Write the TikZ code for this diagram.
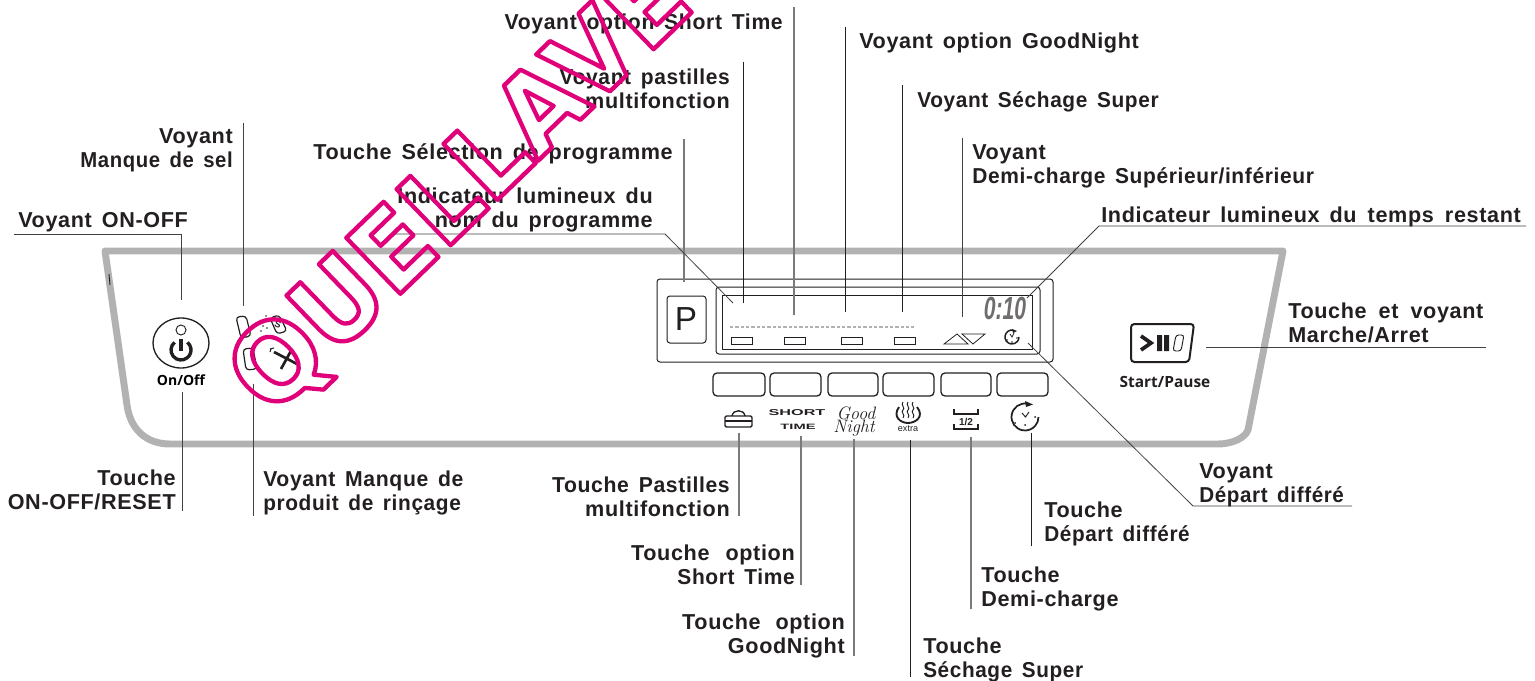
\documentclass[tikz,border=0pt]{standalone}
\usepackage{fontspec}
\usetikzlibrary{shapes.geometric}
\setmainfont{Liberation Sans}
\definecolor{wm}{HTML}{E0007A}
\definecolor{panel}{HTML}{B2B2B2}
\definecolor{ink}{HTML}{231F20}
\newfontfamily\lab[LetterSpace=3,WordSpace=1.5]{Liberation Sans Bold}
\newfontfamily\lmark{Liberation Sans Bold}
\newfontfamily\wmark{DejaVu Sans Bold}
\newfontfamily\opn{Open Sans}[BoldFont=* Bold]
\newfontfamily\scrpt{Latin Modern Roman}
\newcommand\sqz[2]{\scalebox{#1}[1]{#2}}
\tikzset{
 lbl/.style={inner sep=0pt,font=\fontsize{16.2}{18}\selectfont\lab,text=ink},
 lleft/.style={lbl,anchor=west,align=left},
 lright/.style={lbl,anchor=east,align=right},
 lead/.style={draw=ink!85,line width=0.6pt},
 leadg/.style={draw=ink!60,line width=0.9pt},
 wire/.style={draw=ink,line width=0.55pt},
 rbox/.style={draw=ink,line width=0.75pt,rounded corners=2.2pt},
 ledbox/.style={draw=ink,line width=0.7pt,fill=white},
 keybox/.style={draw=ink,line width=0.95pt,rounded corners=3pt},
}
\begin{document}
\begin{tikzpicture}[x=0.75pt,y=-0.75pt]
\useasboundingbox (0,0) rectangle (1535,681);
% panel
\draw[panel,line width=5.2pt,line join=round] (105,251) -- (1283,251) -- (1248,430) .. controls (1245,438) and (1232,444) .. (1218,444) -- (170,444) .. controls (145,444) and (130,428) .. (127,405) -- cycle;
\draw[ink,line width=0.7pt] (109,274) -- (110,285);
% on/off
\node[draw=ink,line width=1pt,ellipse,inner sep=0pt,minimum width=42pt,minimum height=37.5pt] (onoff) at (181,343) {};
\draw[ink,line width=0.7pt] (181,330) circle[radius=5];
\draw[ink,line width=2.5pt] ([shift={(181,350)}]-130:10) arc[start angle=-130,end angle=-410,radius=10];
\draw[ink,line width=2.4pt] (181,339) -- (181,351);
\node[inner sep=0pt,font=\fontsize{10.5}{10.5}\selectfont\opn\bfseries,text=black] (onofftxt) at (181,380) {On/Off};
% salt/rinse lights
\draw[ink,line width=0.9pt,rounded corners=2.5pt] (236,317) -- (246,316) -- (251,336) -- (241,338) -- cycle;
\draw[ink,line width=0.9pt,rounded corners=2.5pt] (243,349) -- (253,348) -- (257,369) -- (246,370) -- cycle;
\draw[ink,line width=0.9pt,rounded corners=2.5pt] (270,318) -- (279,315) -- (287,331) -- (277,334) -- cycle;
\node[inner sep=0pt,rotate=-20,font=\fontsize{7}{7}\selectfont\lmark,text=ink] (salt) at (278,325) {S};
\foreach \p in {(266,316),(264,321),(263,326),(261,331),(267,328),(267,336)} \fill[ink] \p circle[radius=0.8];
\draw[ink,line width=2pt] (274,352) -- (299,365);
\draw[ink,line width=2pt] (292,349) -- (281,369);
\draw[ink,line width=0.8pt] (270,349) -- (274,348) (271,349) -- (270,352);
% display housing
\draw[rbox] (657,279) rectangle (1053,362);
\draw[rbox] (667,296) rectangle (706,343);
\node[inner sep=0pt,font=\fontsize{25}{25}\selectfont,text=ink] (pkey) at (686,319) {P};
\draw[rbox] (716,287) rectangle (1040,354);
\draw[draw=ink,line width=0.75pt] (722,295) rectangle (1032,349);
\draw[panel,line width=1.6pt,dash pattern=on 2.6pt off 1.4pt] (730,327) -- (914,327);
\foreach \x in {731,784,841,894} \draw[ledbox] (\x,337) rectangle (\x+21,344);
\draw[ink,line width=0.6pt] (944,344) -- (968,344) -- (957,334) -- cycle;
\draw[ink,line width=0.6pt] (962,334) -- (985,334) -- (973,344) -- cycle;
\node[inner sep=0pt,xscale=0.66,font=\fontsize{24}{24}\selectfont\lmark\itshape,text=ink!65] (dig) at (1005,308) {0:10};
% small clock
\draw[ink,line width=1.1pt] ([shift={(1012,337)}]-80:7) arc[start angle=-80,end angle=-360,radius=7];
\fill[ink] (1012,329) -- (1017,331) -- (1013,333) -- cycle;
\draw[ink,line width=0.6pt] (1010,334) -- (1012,337) -- (1014,333);
\fill[ink] (1017,338) circle[radius=0.8] (1012,342) circle[radius=0.8] (1007,340) circle[radius=0.8];
% keys
\foreach \a/\b in {713/765,770/821,828/878,883/934,941/991,997/1048} \draw[keybox] (\a,373) rectangle (\b,396);
% icons
\draw[ink,line width=1pt,rounded corners=1pt] (725,416) rectangle (752,427);
\draw[ink,line width=1pt] (725,421) -- (752,421);
\draw[ink,line width=1pt] (732,416) .. controls (733,409) and (744,409) .. (745,416);
\node[inner sep=0pt,xscale=1.9,font=\fontsize{6.4}{6.4}\selectfont\lmark,text=ink] (sh) at (797,413) {SHORT};
\node[inner sep=0pt,xscale=1.9,font=\fontsize{5.8}{5.8}\selectfont\lmark,text=ink] (ti) at (798,427) {TIME};
\node[inner sep=0pt,font=\fontsize{13.5}{13.5}\selectfont\scrpt\itshape,text=ink] (gd) at (856,413) {Good};
\node[inner sep=0pt,font=\fontsize{13.5}{13.5}\selectfont\scrpt\itshape,text=ink] (ng) at (854,428) {Night};
\foreach \x in {903,908,913} \draw[ink,line width=0.7pt] (\x,402) .. controls (\x-3,405) and (\x+3,408) .. (\x,410) .. controls (\x-3,412) and (\x+3,415) .. (\x,418);
\draw[ink,line width=1.4pt] (899,407) .. controls (892,417) and (901,423) .. (908,423) .. controls (915,423) and (925,417) .. (917,407);
\node[inner sep=0pt,font=\fontsize{6.8}{6.8}\selectfont,text=ink] (ex) at (908,429) {extra};
\draw[ink,line width=1pt] (954,409) -- (954,414) -- (978,414) -- (978,409);
\draw[ink,line width=1.2pt] (954,424) -- (954,429) -- (978,429) -- (978,424);
\node[inner sep=0pt,font=\fontsize{7.5}{7.5}\selectfont\lmark,text=ink] (half) at (966,422) {1/2};
\draw[ink,line width=1.3pt] ([shift={(1025,417)}]-80:13.5) arc[start angle=-80,end angle=-360,radius=13.5];
\fill[ink] (1025,401) -- (1033,404.5) -- (1026,407) -- cycle;
\draw[ink,line width=0.7pt] (1022,413) -- (1025.5,417) -- (1029,412);
\fill[ink] (1035,417) circle[radius=1] (1015,423) circle[radius=1] (1025,425) circle[radius=1];
% start/pause
\draw[ink,line width=1.5pt,rounded corners=2.5pt] (1131,324) -- (1194,324) -- (1189,362) -- (1131,362) -- cycle;
\draw[ink,line width=2.8pt,miter limit=4] (1141,336) -- (1151,343) -- (1141,350);
\fill[ink] (1157,335) rectangle (1162,351) (1164,335) rectangle (1169,351);
\draw[ink,line width=0.7pt,rounded corners=2pt] (1176,335) -- (1184,335) -- (1181,351) -- (1173,351) -- cycle;
\node[inner sep=0pt,font=\fontsize{11.6}{11.6}\selectfont\opn\bfseries,text=ink] (sp) at (1165,382) {Start/Pause};
% labels
\node[lleft] (t1) at (18,222) {Voyant ON-OFF};
\node[lright] (t2) at (233,150) {Voyant\\\sqz{0.94}{Manque de sel}};
\node[lleft] (t3) at (313,154) {Touche Sélection de programme};
\node[lright] (t4) at (653,210) {Indicateur lumineux du\\nom du programme};
\node[lright] (t5) at (730,89) {\sqz{0.97}{Voyant pastilles}\\multifonction};
\node[lright] (t6) at (783,24) {\sqz{0.98}{Voyant option Short Time}};
\node[lleft] (t7) at (859,43) {Voyant option GoodNight};
\node[lleft] (t8) at (917,102) {\sqz{0.965}{Voyant Séchage Super}};
\node[lleft] (t9) at (972,166) {Voyant\\\sqz{0.97}{Demi-charge Supérieur/inférieur}};
\node[lleft] (t10) at (1101,217) {Indicateur lumineux du\hspace{0.8pt} temps\hspace{0.8pt} restant};
\node[lleft] (t11) at (1288,323) {Touche\hspace{1.5pt} et\hspace{1.5pt} voyant\\Marche/Arret};
\node[lleft] (t12) at (1199,485) {Voyant\\\sqz{0.955}{Départ différé}};
\node[lleft] (t13) at (1044,524) {Touche\\\sqz{0.96}{Départ différé}};
\node[lleft] (t14) at (981,589) {Touche\\Demi-charge};
\node[lleft] (t15) at (923,660) {Touche\\\sqz{0.96}{Séchage Super}};
\node[lright] (t16) at (845,636) {Touche\hspace{3.7pt} option\\GoodNight};
\node[lright] (t17) at (795,565) {Touche\hspace{4.5pt} option\\\sqz{0.97}{Short Time}};
\node[lright] (t18) at (730,497) {\sqz{0.98}{Touche Pastilles}\\multifonction};
\node[lright] (t19) at (176,490) {Touche\\ON-OFF/RESET};
\node[lleft] (t20) at (263,493) {\sqz{0.98}{Voyant Manque de}\\\sqz{0.965}{produit de rinçage}};
% connector ends
\coordinate (a1) at (14,234); \coordinate (a2) at (181,234); \coordinate (a3) at (181,300);
\coordinate (b1) at (243,123); \coordinate (b2) at (243,306);
\coordinate (c1) at (684,139); \coordinate (c2) at (684,282);
\coordinate (d1) at (395,234); \coordinate (d2) at (665,234); \coordinate (d3) at (733,303);
\coordinate (e1) at (743,62); \coordinate (e2) at (743,303);
\coordinate (f1) at (794,7); \coordinate (f2) at (794,315);
\coordinate (g1) at (845,27); \coordinate (g2) at (845,312);
\coordinate (h1) at (902,85); \coordinate (h2) at (902,312);
\coordinate (i1) at (962,138); \coordinate (i2) at (962,317);
\coordinate (j1) at (1526,226); \coordinate (j2) at (1099,226); \coordinate (j3) at (1027,298);
\coordinate (k1) at (1206,347); \coordinate (k2) at (1486,347);
\coordinate (l1) at (1028,343); \coordinate (l2) at (1193,506); \coordinate (l3) at (1352,506);
\coordinate (m1) at (1031,433); \coordinate (m2) at (1031,546);
\coordinate (n1) at (971,437); \coordinate (n2) at (971,609);
\coordinate (o1) at (910,440); \coordinate (o2) at (910,677);
\coordinate (p1) at (854,439); \coordinate (p2) at (854,656);
\coordinate (q1) at (801,436); \coordinate (q2) at (801,585);
\coordinate (r1) at (739,433); \coordinate (r2) at (739,516);
\coordinate (s1) at (182,392); \coordinate (s2) at (182,511);
\coordinate (u1) at (253,384); \coordinate (u2) at (253,516);
\draw[lead] (a1) -- (a2) -- (a3);
\draw[lead] (b1) -- (b2);
\draw[leadg] (c1) -- (c2);
\draw[lead] (d1) -- (d2) -- (d3);
\draw[wire] (e1) -- (e2);
\draw[leadg] (f1) -- (f2);
\draw[wire] (g1) -- (g2);
\draw[wire] (h1) -- (h2);
\draw[lead] (i1) -- (i2);
\draw[lead] (j1) -- (j2) -- (j3);
\draw[lead] (k1) -- (k2);
\draw[lead] (l1) -- (l2) -- (l3);
\draw[wire] (m1) -- (m2);
\draw[leadg] (n1) -- (n2);
\draw[wire] (o1) -- (o2);
\draw[leadg] (p1) -- (p2);
\draw[leadg] (q1) -- (q2);
\draw[leadg] (r1) -- (r2);
\draw[lead] (s1) -- (s2);
\draw[lead] (u1) -- (u2);
% watermark
\node[rotate=44,xscale=0.96,inner sep=0pt,font=\fontsize{80}{80}\selectfont\wmark] (w) at (462,190) {\special{pdf:code q 1 Tr 0.878 0 0.478 RG 3.3 w 1 j}QUELLAVE\special{pdf:code Q}};
\end{tikzpicture}
\end{document}
